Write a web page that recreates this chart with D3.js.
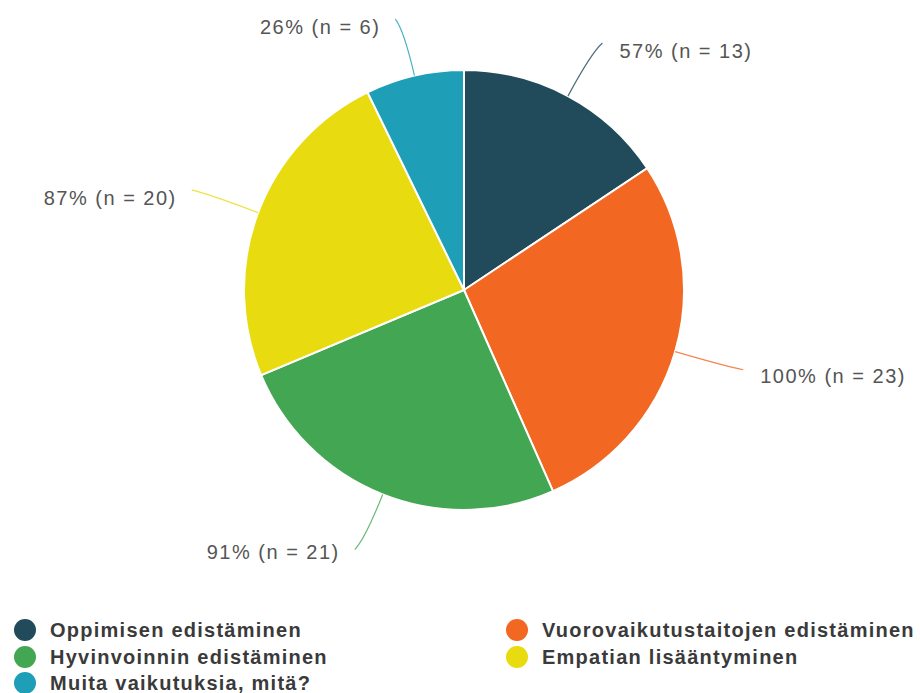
<!DOCTYPE html>
<html>
<head>
<meta charset="utf-8">
<script src="https://cdn.jsdelivr.net/npm/d3@7"></script>
<style>
  body { margin: 0; background: #fff; }
  svg { display: block; font-family: "Liberation Sans", Arial, sans-serif; }
</style>
</head>
<body>
<div id="chart"></div>
<script>
// Data
var categories = ["Oppimisen edistäminen", "Vuorovaikutustaitojen edistäminen",
  "Hyvinvoinnin edistäminen", "Empatian lisääntyminen", "Muita vaikutuksia, mitä?"];
var counts = [13, 23, 21, 20, 6];
var percents = [57, 100, 91, 87, 26];
var colors = ["#214b5a", "#f26722", "#43a652", "#e8dc10", "#1f9eb8"];

// legend order as in the picture (two columns)
var legendOrder = [0, 1, 2, 3, 4];

var svgWidth = 920;
var svgHeight = 693;
var cx = 464, cy = 290, radius = 220;

var svg = d3.select("#chart")
  .append("svg")
  .attr("width", svgWidth)
  .attr("height", svgHeight);

var pieGroup = svg.append("g")
  .attr("transform", `translate(${cx}, ${cy})`);

var pie = d3.pie().sort(null).value(d => d);
var arcs = pie(counts);

var arc = d3.arc().innerRadius(0).outerRadius(radius);

pieGroup.selectAll("path.slice")
  .data(arcs)
  .enter()
  .append("path")
  .attr("class", "slice")
  .attr("d", arc)
  .attr("fill", (d, i) => colors[i])
  .attr("stroke", "#fff")
  .attr("stroke-width", 2);

// leader lines, slightly curved
function polar(r, a) {
  return [r * Math.sin(a), -r * Math.cos(a)];
}

arcs.forEach(function(d, i) {
  var mid = (d.startAngle + d.endAngle) / 2;
  var side = Math.sin(mid) < 0 ? -1 : 1;
  var rEnd = 276 + 9 * Math.abs(Math.sin(mid));
  var p0 = polar(radius, mid);
  var p1 = polar(rEnd - 12, mid);
  var p2 = polar(rEnd, mid);
  p2[0] += side * 6;
  var path = d3.path();
  path.moveTo(p0[0], p0[1]);
  path.quadraticCurveTo(p1[0], p1[1], p2[0], p2[1]);
  pieGroup.append("path")
    .attr("d", path.toString())
    .attr("fill", "none")
    .attr("stroke", colors[i])
    .attr("stroke-width", 1.2)
    .attr("opacity", 0.8);

  var yOff = 8 - 6 * Math.max(0, -Math.cos(mid));
  pieGroup.append("text")
    .attr("x", p2[0] + side * (side < 0 ? 15 : 17))
    .attr("y", p2[1] + yOff)
    .attr("dy", "0.35em")
    .attr("text-anchor", side < 0 ? "end" : "start")
    .attr("font-size", "20px")
    .attr("letter-spacing", "1.5px")
    .attr("fill", "#555")
    .text(`${percents[i]}% (n = ${counts[i]})`);
});

// legend
var legend = svg.append("g");
var colX = [25, 517];
var rowY = [630, 657, 683];

legendOrder.forEach(function(idx, k) {
  var col = k % 2;
  var row = Math.floor(k / 2);
  var g = legend.append("g")
    .attr("transform", `translate(${colX[col]}, ${rowY[row]})`);
  g.append("circle")
    .attr("r", 11)
    .attr("fill", colors[idx]);
  g.append("text")
    .attr("x", 25)
    .attr("dy", "0.35em")
    .attr("font-size", "20px")
    .attr("font-weight", "bold")
    .attr("letter-spacing", "1.25px")
    .attr("fill", "#3a3a3a")
    .text(categories[idx]);
});
</script>
</body>
</html>
